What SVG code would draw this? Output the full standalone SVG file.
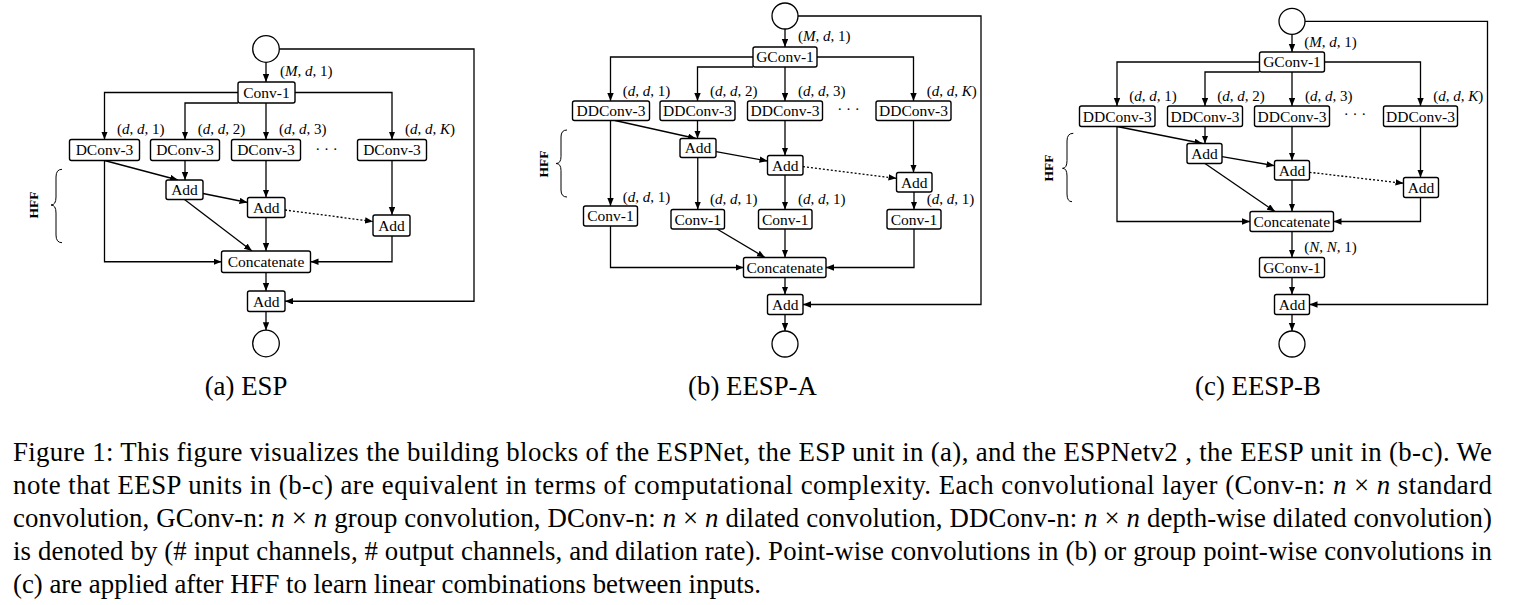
<svg xmlns="http://www.w3.org/2000/svg" width="1523" height="605" viewBox="0 0 1523 605">
<defs>
<marker id="ah" markerUnits="userSpaceOnUse" markerWidth="9" markerHeight="7" refX="8" refY="3.2" orient="auto">
<path d="M0,0 L8,3.2 L0,6.4 z" fill="#000"/>
</marker>
</defs>
<style>
.box{fill:#fff;stroke:#000;stroke-width:1.4}
.nt{font-family:"Liberation Serif","Times New Roman",serif;font-size:15.5px;text-anchor:middle;fill:#000}
.lb{font-family:"Liberation Serif","Times New Roman",serif;font-size:15px;fill:#000}
.it{font-style:italic}
.cir{fill:#fff;stroke:#000;stroke-width:1.3}
.c path{fill:none;stroke:#000;stroke-width:1.3}
.c .a{marker-end:url(#ah)}
.c .dot{stroke-dasharray:2,2}
.brace{fill:none;stroke:#000;stroke-width:1}
.hff{font-family:"Liberation Serif","Times New Roman",serif;font-size:13.5px;font-weight:bold;text-anchor:middle}
.cap{font-family:"Liberation Serif","Times New Roman",serif;font-size:26.8px;fill:#000}
.sub{font-family:"Liberation Serif","Times New Roman",serif;font-size:26.8px;text-anchor:middle;fill:#000}
</style>

<!-- ================= Panel (a) ESP ================= -->
<g id="a-connectors" class="c">
<path class="a" d="M266,62.3 V82"/>
<path class="a" d="M238,92.5 H104.5 V139.5"/>
<path class="a" d="M295,92.5 H392 V139.5"/>
<path class="a" d="M238,103 H185 V139.5"/>
<path class="a" d="M266,103 V139.5"/>
<path class="a" d="M104.5,160.5 V261.75 H221.5"/>
<path class="a" d="M104.5,160.5 L178,180"/>
<path class="a" d="M185,160.5 V180"/>
<path class="a" d="M266,160.5 V197.5"/>
<path class="a" d="M392,160.5 V215"/>
<path class="a" d="M203,193.5 L247.5,202.5"/>
<path class="a dot" d="M285,210 L373,221.5"/>
<path class="a" d="M184.5,199.5 L252,251"/>
<path class="a" d="M266,217.5 V251"/>
<path class="a" d="M392,236 V261.75 H310.5"/>
<path class="a" d="M266,272.5 V291"/>
<path class="a" d="M266,311.5 V330.2"/>
<path class="a" d="M279.3,49 H474 V301.25 H285"/>
</g>
<g id="a-in"><circle class="cir" cx="266" cy="49" r="13.3"/></g>
<g id="a-conv1"><rect class="box" x="238" y="82" width="57" height="21" rx="2"/><text class="nt" x="266.5" y="97.8">Conv-1</text>
<text class="lb" x="280" y="76">(<tspan class="it">M</tspan>, <tspan class="it">d</tspan>, 1)</text></g>
<g id="a-dconv1"><rect class="box" x="69.5" y="139.5" width="70" height="21" rx="2"/><text class="nt" x="104.5" y="155.3">DConv-3</text>
<text class="lb" x="117" y="134">(<tspan class="it">d</tspan>, <tspan class="it">d</tspan>, 1)</text></g>
<g id="a-dconv2"><rect class="box" x="150.5" y="139.5" width="69" height="21" rx="2"/><text class="nt" x="185" y="155.3">DConv-3</text>
<text class="lb" x="197.7" y="134">(<tspan class="it">d</tspan>, <tspan class="it">d</tspan>, 2)</text></g>
<g id="a-dconv3"><rect class="box" x="231.5" y="139.5" width="69" height="21" rx="2"/><text class="nt" x="266" y="155.3">DConv-3</text>
<text class="lb" x="279" y="134">(<tspan class="it">d</tspan>, <tspan class="it">d</tspan>, 3)</text></g>
<g id="a-dots"><text class="lb" x="326.5" y="154" text-anchor="middle">· · ·</text></g>
<g id="a-dconvk"><rect class="box" x="357.5" y="139.5" width="69" height="21" rx="2"/><text class="nt" x="392" y="155.3">DConv-3</text>
<text class="lb" x="405" y="134">(<tspan class="it">d</tspan>, <tspan class="it">d</tspan>, <tspan class="it">K</tspan>)</text></g>
<g id="a-add1"><rect class="box" x="166" y="180" width="37" height="19.5" rx="2"/><text class="nt" x="184.5" y="195">Add</text></g>
<g id="a-add2"><rect class="box" x="247.5" y="197.5" width="37.5" height="20" rx="2"/><text class="nt" x="266.25" y="212.8">Add</text></g>
<g id="a-add3"><rect class="box" x="373" y="215" width="37" height="21" rx="2"/><text class="nt" x="391.5" y="230.8">Add</text></g>
<g id="a-concat"><rect class="box" x="221.5" y="251" width="89" height="21.5" rx="2"/><text class="nt" x="266" y="267">Concatenate</text></g>
<g id="a-add4"><rect class="box" x="247.5" y="291" width="37.5" height="20.5" rx="2"/><text class="nt" x="266.25" y="306.5">Add</text></g>
<g id="a-out"><circle class="cir" cx="266" cy="343.5" r="13.3"/></g>
<g id="a-hff"><path class="brace" d="M62,169.3 Q56,169.3 56,177 V197 Q56,205 51,205 Q56,205 56,213 V235 Q56,242.7 62,242.7"/>
<text class="hff" transform="translate(38.3,205) rotate(-90)">HFF</text></g>
<g id="a-caption"><text class="sub" x="246" y="395">(a) ESP</text></g>

<!-- ================= Panel (b) EESP-A ================= -->
<g id="b-connectors" class="c">
<path class="a" d="M785,29 V47"/>
<path class="a" d="M753,57 H610.5 V101"/>
<path class="a" d="M817,57 H913.5 V101"/>
<path class="a" d="M753,67 H697.5 V101"/>
<path class="a" d="M785,67 V101"/>
<path class="a" d="M610.5,120.5 V206"/>
<path class="a" d="M615,120.5 L696,138.5"/>
<path class="a" d="M697.5,120.5 V138.5"/>
<path class="a" d="M785,120.5 V155.5"/>
<path class="a" d="M913.5,120.5 V172.5"/>
<path class="a" d="M716,151.7 L767.5,161"/>
<path class="a dot" d="M803,166.7 L896.5,178.3"/>
<path class="a" d="M697.75,157.5 V209.5"/>
<path class="a" d="M785,175 V209.5"/>
<path class="a" d="M914,192 V209.5"/>
<path class="a" d="M610.5,226 V267.5 H743.5"/>
<path class="a" d="M717,229 L765,257.5"/>
<path class="a" d="M785,229 V257.5"/>
<path class="a" d="M914,229 V267.5 H826"/>
<path class="a" d="M785,277.5 V294.5"/>
<path class="a" d="M785,314.5 V331"/>
<path class="a" d="M798,16 H981 V304.5 H803"/>
</g>
<g id="b-in"><circle class="cir" cx="785" cy="16" r="13"/></g>
<g id="b-gconv1"><rect class="box" x="753" y="47" width="64" height="20" rx="2"/><text class="nt" x="785" y="62.3">GConv-1</text>
<text class="lb" x="798" y="41">(<tspan class="it">M</tspan>, <tspan class="it">d</tspan>, 1)</text></g>
<g id="b-dd1"><rect class="box" x="572.5" y="101" width="77" height="19.5" rx="2"/><text class="nt" x="611" y="116.2">DDConv-3</text>
<text class="lb" x="622.7" y="96">(<tspan class="it">d</tspan>, <tspan class="it">d</tspan>, 1)</text></g>
<g id="b-dd2"><rect class="box" x="660" y="101" width="75" height="19.5" rx="2"/><text class="nt" x="697.5" y="116.2">DDConv-3</text>
<text class="lb" x="710" y="96">(<tspan class="it">d</tspan>, <tspan class="it">d</tspan>, 2)</text></g>
<g id="b-dd3"><rect class="box" x="747.5" y="101" width="75" height="19.5" rx="2"/><text class="nt" x="785" y="116.2">DDConv-3</text>
<text class="lb" x="798" y="96">(<tspan class="it">d</tspan>, <tspan class="it">d</tspan>, 3)</text></g>
<g id="b-dots"><text class="lb" x="848.5" y="114" text-anchor="middle">· · ·</text></g>
<g id="b-ddk"><rect class="box" x="876" y="101" width="75" height="19.5" rx="2"/><text class="nt" x="913.5" y="116.2">DDConv-3</text>
<text class="lb" x="926.7" y="96">(<tspan class="it">d</tspan>, <tspan class="it">d</tspan>, <tspan class="it">K</tspan>)</text></g>
<g id="b-add1"><rect class="box" x="680" y="138.5" width="36" height="19" rx="2"/><text class="nt" x="698" y="153.3">Add</text></g>
<g id="b-add2"><rect class="box" x="767.5" y="155.5" width="35.5" height="19.5" rx="2"/><text class="nt" x="785.25" y="170.5">Add</text></g>
<g id="b-add3"><rect class="box" x="896.5" y="172.5" width="35.5" height="19.5" rx="2"/><text class="nt" x="914.25" y="187.5">Add</text></g>
<g id="b-pw1"><rect class="box" x="583.5" y="206" width="54" height="20" rx="2"/><text class="nt" x="610.5" y="221.3">Conv-1</text>
<text class="lb" x="622.7" y="201.5">(<tspan class="it">d</tspan>, <tspan class="it">d</tspan>, 1)</text></g>
<g id="b-pw2"><rect class="box" x="671" y="209.5" width="53.5" height="19.5" rx="2"/><text class="nt" x="697.75" y="224.6">Conv-1</text>
<text class="lb" x="710" y="204">(<tspan class="it">d</tspan>, <tspan class="it">d</tspan>, 1)</text></g>
<g id="b-pw3"><rect class="box" x="758.5" y="209.5" width="53.5" height="19.5" rx="2"/><text class="nt" x="785.25" y="224.6">Conv-1</text>
<text class="lb" x="798" y="204">(<tspan class="it">d</tspan>, <tspan class="it">d</tspan>, 1)</text></g>
<g id="b-pw4"><rect class="box" x="887" y="209.5" width="54" height="19.5" rx="2"/><text class="nt" x="914" y="224.6">Conv-1</text>
<text class="lb" x="926.7" y="204">(<tspan class="it">d</tspan>, <tspan class="it">d</tspan>, 1)</text></g>
<g id="b-concat"><rect class="box" x="743.5" y="257.5" width="82.5" height="20" rx="2"/><text class="nt" x="784.75" y="272.8">Concatenate</text></g>
<g id="b-add4"><rect class="box" x="767.5" y="294.5" width="35.5" height="20" rx="2"/><text class="nt" x="785.25" y="309.8">Add</text></g>
<g id="b-out"><circle class="cir" cx="785" cy="344" r="13"/></g>
<g id="b-hff"><path class="brace" d="M567,130 Q561,130 561,137 V156.5 Q561,163.5 556,163.5 Q561,163.5 561,170.5 V190 Q561,197 567,197"/>
<text class="hff" transform="translate(548,164) rotate(-90)">HFF</text></g>
<g id="b-caption"><text class="sub" x="752.5" y="395">(b) EESP-A</text></g>

<!-- ================= Panel (c) EESP-B ================= -->
<g id="c-connectors" class="c">
<path class="a" d="M1292,34.3 V52"/>
<path class="a" d="M1259.5,62 H1117 V106"/>
<path class="a" d="M1324.5,62 H1420.5 V106"/>
<path class="a" d="M1259.5,72 H1205 V106"/>
<path class="a" d="M1292,72 V106"/>
<path class="a" d="M1117,126.5 V221.5 H1250"/>
<path class="a" d="M1117,126.5 L1202.5,143.5"/>
<path class="a" d="M1205,126.5 V143.5"/>
<path class="a" d="M1292,126.5 V160.5"/>
<path class="a" d="M1420.5,126.5 V177.5"/>
<path class="a" d="M1222,156.7 L1274.5,165.7"/>
<path class="a dot" d="M1309.5,172.3 L1403.5,183.3"/>
<path class="a" d="M1205,163.5 L1275,211.5"/>
<path class="a" d="M1292,180 V211.5"/>
<path class="a" d="M1420.5,197.5 V221.5 H1333.5"/>
<path class="a" d="M1292,231.5 V257.5"/>
<path class="a" d="M1292,277.5 V294.5"/>
<path class="a" d="M1292,314.5 V331"/>
<path class="a" d="M1305,21.3 H1487.5 V304.5 H1309.5"/>
</g>
<g id="c-in"><circle class="cir" cx="1292" cy="21.3" r="13"/></g>
<g id="c-gconv1"><rect class="box" x="1259.5" y="52" width="65" height="20" rx="2"/><text class="nt" x="1292" y="67.3">GConv-1</text>
<text class="lb" x="1304.3" y="47">(<tspan class="it">M</tspan>, <tspan class="it">d</tspan>, 1)</text></g>
<g id="c-dd1"><rect class="box" x="1079.5" y="106" width="75.5" height="20.5" rx="2"/><text class="nt" x="1117.25" y="121.6">DDConv-3</text>
<text class="lb" x="1129.3" y="101">(<tspan class="it">d</tspan>, <tspan class="it">d</tspan>, 1)</text></g>
<g id="c-dd2"><rect class="box" x="1167.5" y="106" width="75" height="20.5" rx="2"/><text class="nt" x="1205" y="121.6">DDConv-3</text>
<text class="lb" x="1217.3" y="101">(<tspan class="it">d</tspan>, <tspan class="it">d</tspan>, 2)</text></g>
<g id="c-dd3"><rect class="box" x="1254.5" y="106" width="75" height="20.5" rx="2"/><text class="nt" x="1292" y="121.6">DDConv-3</text>
<text class="lb" x="1305" y="101">(<tspan class="it">d</tspan>, <tspan class="it">d</tspan>, 3)</text></g>
<g id="c-dots"><text class="lb" x="1355" y="119" text-anchor="middle">· · ·</text></g>
<g id="c-ddk"><rect class="box" x="1383.5" y="106" width="74" height="20.5" rx="2"/><text class="nt" x="1420.5" y="121.6">DDConv-3</text>
<text class="lb" x="1433.3" y="101">(<tspan class="it">d</tspan>, <tspan class="it">d</tspan>, <tspan class="it">K</tspan>)</text></g>
<g id="c-add1"><rect class="box" x="1187" y="143.5" width="35" height="20" rx="2"/><text class="nt" x="1204.5" y="158.8">Add</text></g>
<g id="c-add2"><rect class="box" x="1274.5" y="160.5" width="35" height="19.5" rx="2"/><text class="nt" x="1292" y="175.5">Add</text></g>
<g id="c-add3"><rect class="box" x="1403.5" y="177.5" width="35" height="20" rx="2"/><text class="nt" x="1421" y="192.8">Add</text></g>
<g id="c-concat"><rect class="box" x="1250" y="211.5" width="83.5" height="20" rx="2"/><text class="nt" x="1291.75" y="226.8">Concatenate</text></g>
<g id="c-gconv2"><rect class="box" x="1259.5" y="257.5" width="65" height="20" rx="2"/><text class="nt" x="1292" y="272.8">GConv-1</text>
<text class="lb" x="1304.3" y="251.5">(<tspan class="it">N</tspan>, <tspan class="it">N</tspan>, 1)</text></g>
<g id="c-add4"><rect class="box" x="1274.5" y="294.5" width="35" height="20" rx="2"/><text class="nt" x="1292" y="309.8">Add</text></g>
<g id="c-out"><circle class="cir" cx="1292" cy="344" r="13"/></g>
<g id="c-hff"><path class="brace" d="M1073.3,133.3 Q1067,133.3 1067,141 V160.5 Q1067,168.3 1062.5,168.3 Q1067,168.3 1067,176 V194 Q1067,201.7 1072,201.7"/>
<text class="hff" transform="translate(1053,168) rotate(-90)">HFF</text></g>
<g id="c-caption"><text class="sub" x="1258" y="395">(c) EESP-B</text></g>

<!-- ================= Figure caption ================= -->
<g id="figure-caption">
<text class="cap" x="13" y="461" textLength="1479" lengthAdjust="spacing">Figure 1: This figure visualizes the building blocks of the ESPNet, the ESP unit in (a), and the ESPNetv2 , the EESP unit in (b-c). We</text>
<text class="cap" x="13" y="494" textLength="1479" lengthAdjust="spacing">note that EESP units in (b-c) are equivalent in terms of computational complexity. Each convolutional layer (Conv-n: <tspan class="it">n</tspan> × <tspan class="it">n</tspan> standard</text>
<text class="cap" x="13" y="527" textLength="1479" lengthAdjust="spacing">convolution, GConv-n: <tspan class="it">n</tspan> × <tspan class="it">n</tspan> group convolution, DConv-n: <tspan class="it">n</tspan> × <tspan class="it">n</tspan> dilated convolution, DDConv-n: <tspan class="it">n</tspan> × <tspan class="it">n</tspan> depth-wise dilated convolution)</text>
<text class="cap" x="13" y="560" textLength="1479" lengthAdjust="spacing">is denoted by (# input channels, # output channels, and dilation rate). Point-wise convolutions in (b) or group point-wise convolutions in</text>
<text class="cap" x="13" y="593">(c) are applied after HFF to learn linear combinations between inputs.</text>
</g>
</svg>
